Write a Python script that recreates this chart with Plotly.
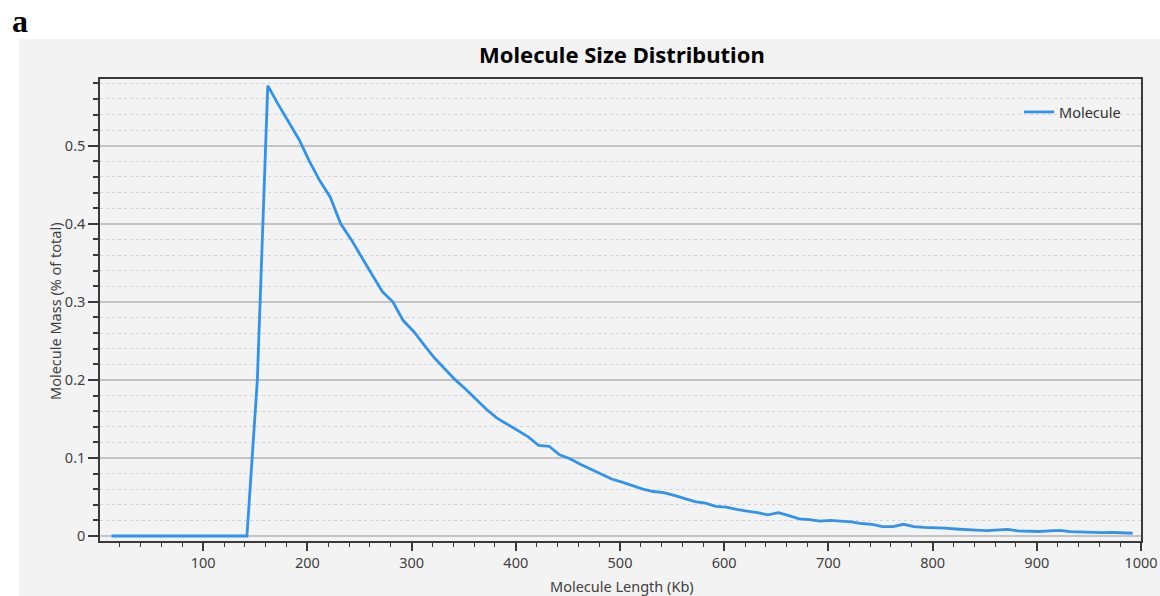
import plotly.graph_objects as go

# Molecule length bins (Kb) and mass fraction (% of total)
lengths_kb = list(range(12, 1000, 10))
mass_pct = [
    0, 0, 0, 0, 0, 0, 0, 0, 0, 0, 0, 0, 0, 0,
    0.20, 0.577, 0.553, 0.530, 0.508, 0.480, 0.455, 0.434, 0.400, 0.380,
    0.357, 0.335, 0.313, 0.300, 0.276, 0.262, 0.245, 0.228, 0.214, 0.200,
    0.188, 0.175, 0.162, 0.151, 0.143, 0.136, 0.127, 0.116, 0.115, 0.104,
    0.099, 0.092, 0.086, 0.080, 0.073, 0.069, 0.064, 0.060, 0.057, 0.0555,
    0.052, 0.048, 0.044, 0.042, 0.038, 0.037, 0.034, 0.032, 0.030, 0.027,
    0.030, 0.026, 0.022, 0.021, 0.019, 0.020, 0.019, 0.018, 0.016, 0.015,
    0.012, 0.012, 0.015, 0.012, 0.011, 0.0107, 0.010, 0.009, 0.0087, 0.0075,
    0.007, 0.008, 0.0085, 0.0065, 0.0057, 0.0058, 0.0065, 0.0072, 0.0055, 0.005,
    0.0045, 0.0043, 0.0047, 0.004, 0.0035,
]
x_tick_vals = [100, 200, 300, 400, 500, 600, 700, 800, 900, 1000]
y_tick_vals = [0, 0.1, 0.2, 0.3, 0.4, 0.5]
y_tick_text = ["0", "0.1", "0.2", "0.3", "0.4", "0.5"]

FONT = "Noto Sans"
PANEL = "#f3f3f3"
AXIS = "#3a3a3a"
TEXT = "#404040"

fig = go.Figure()
fig.add_trace(go.Scatter(
    x=lengths_kb, y=mass_pct, mode="lines", name="Molecule",
    line=dict(color="#3193ea", width=2.8),
))

W, H = 1160, 596
L, R, T, B = 100, 19, 79, 55
pw, ph = W - L - R, H - T - B


def px_x(px):
    return (px - L) / pw


def px_y(py):
    return (H - B - py) / ph


fig.update_layout(
    width=W, height=H,
    margin=dict(l=L, r=R, t=T, b=B, pad=0, autoexpand=False),
    paper_bgcolor="white",
    plot_bgcolor=PANEL,
    font=dict(family=FONT, size=14, color=TEXT),
    showlegend=True,
    legend=dict(
        x=px_x(1126), y=px_y(112), xanchor="right", yanchor="middle",
        bgcolor="rgba(0,0,0,0)", borderwidth=0,
        font=dict(family=FONT, size=14.5, color="#333333"),
        itemwidth=30,
    ),
    shapes=[dict(
        type="rect", xref="paper", yref="paper",
        x0=px_x(19), x1=px_x(1162), y0=px_y(598), y1=px_y(39),
        fillcolor=PANEL, line=dict(width=0), layer="below",
    )],
    annotations=[
        dict(text="<b>a</b>", xref="paper", yref="paper",
             x=px_x(20), y=px_y(21), xanchor="center", yanchor="middle",
             showarrow=False,
             font=dict(family="Liberation Serif", size=32, color="black")),
        dict(text="<b>Molecule Size Distribution</b>", xref="paper", yref="paper",
             x=px_x(622), y=px_y(54), xanchor="center", yanchor="middle",
             showarrow=False,
             font=dict(family=FONT, size=22, color="black")),
        dict(text="Molecule Length (Kb)", xref="paper", yref="paper",
             x=px_x(622), y=px_y(586), xanchor="center", yanchor="middle",
             showarrow=False,
             font=dict(family=FONT, size=14.5, color=TEXT)),
        dict(text="Molecule Mass (% of total)", xref="paper", yref="paper",
             x=px_x(55), y=px_y(311), xanchor="center", yanchor="middle",
             textangle=-90, showarrow=False,
             font=dict(family=FONT, size=14.5, color=TEXT)),
    ],
)

fig.update_xaxes(
    range=[1, 1000], automargin=False, ticklabeloverflow="allow",
    tickmode="array", tickvals=x_tick_vals,
    ticks="outside", ticklen=8, tickwidth=2, tickcolor=AXIS,
    showline=True, linecolor=AXIS, linewidth=1.5, mirror=True,
    showgrid=False, zeroline=False,
    tickfont=dict(family=FONT, size=14.5, color=TEXT),
    minor=dict(dtick=20, tick0=0, ticks="outside", ticklen=4, tickwidth=1,
               tickcolor=AXIS, showgrid=False),
)
fig.update_yaxes(
    range=[-0.0064, 0.5855], automargin=False,
    tickmode="array", tickvals=y_tick_vals, ticktext=y_tick_text,
    ticks="outside", ticklen=10, tickwidth=1.5, tickcolor=AXIS,
    showline=True, linecolor=AXIS, linewidth=1.5, mirror=True,
    showgrid=True, gridcolor="#c4c4c4", gridwidth=1.5,
    zeroline=False,
    tickfont=dict(family=FONT, size=14.5, color=TEXT),
    minor=dict(dtick=0.02, tick0=0, ticks="outside", ticklen=5, tickwidth=1.5,
               tickcolor=AXIS, showgrid=True, gridcolor="#d4d4d4",
               griddash="dot", gridwidth=1),
)

fig.write_html("out.html")
